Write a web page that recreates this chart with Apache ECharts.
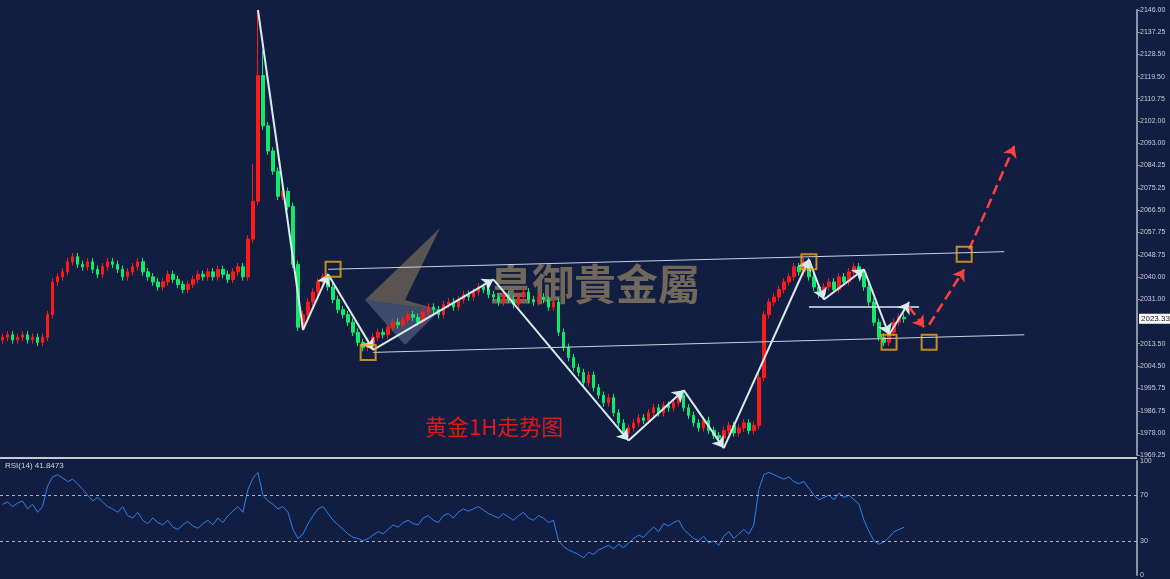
<!DOCTYPE html>
<html><head><meta charset="utf-8">
<script src="https://cdn.jsdelivr.net/npm/echarts@6/dist/echarts.min.js"></script>
<style>html,body{margin:0;padding:0;background:#111e41}#c{width:1170px;height:579px}</style>
</head><body><div id="c"></div>
<script>
// hourly closes (one candle per 5px)
var closes = [2016,2017,2015,2016,2017,2015,2016,2014,2016,
  2025,2038,
  2040,2042,2046,2048,2045,2044,2046,2043,2041,2044,2046,2045,2043,2040,2042,2044,2046,2042,2040,2038,2036,2038,2041,2039,2037,2035,2037,2039,2041,2040,2042,2040,2043,2041,2039,2042,2044,2040,
  2055,2070,2120,
  2100,2090,2082,2072,2074,2068,2045,2020,
  2025,2030,2034,2038,2040,
  2036,2031,2027,2025,2022,2018,2014,2012,2013,
  2016,2018,2017,2020,2022,2021,2023,2025,2024,2022,2026,2028,2027,2025,2029,2030,2028,2031,2033,2032,2034,2036,2035,2033,
  2032,2030,2033,2031,2029,2032,2034,2031,2030,2032,2031,2028,2030,
  2018,2012,2008,2004,2002,1998,2001,1996,1993,1990,1992,1986,1982,1978,
  1980,1982,1984,1983,1986,1988,1986,1989,1988,1990,1993,
  1988,1985,1982,1980,1983,1979,1977,1976,
  1979,1981,1978,1980,1982,1979,1981,
  2000,2025,2030,2032,2035,2038,2040,2044,2042,2046,
  2040,2036,2033,
  2036,2038,2035,2040,2038,2042,2044,2041,
  2036,2030,2022,2016,2014,
  2018,2022,2024,2023.33];
var highOverride = {51: 2146, 50: 2085, 52: 2130};
var rsi = [62,64,60,63,65,58,62,55,60,
  78,86,
  88,85,82,84,80,75,70,65,68,64,60,58,55,60,52,50,55,48,45,50,46,44,48,42,40,44,47,43,41,45,48,44,50,46,52,56,60,55,
  75,85,90,
  70,65,62,58,60,55,40,32,
  36,45,52,58,60,
  54,48,44,40,36,33,32,30,32,
  35,38,36,40,44,42,46,48,45,44,50,52,48,46,52,54,50,55,58,56,58,60,57,54,
  52,50,54,51,48,52,55,50,48,52,50,46,48,
  30,25,22,20,18,15,20,18,22,24,26,23,27,24,
  28,32,35,33,38,42,38,45,43,46,48,
  40,36,32,30,34,28,30,26,
  34,38,32,36,40,36,44,
  75,88,90,88,86,84,86,82,80,82,
  76,70,66,
  68,70,66,72,68,70,66,62,
  48,38,30,27,29,
  33,38,40,41.85];
var priceTicks = [1969.25,1978,1986.75,1995.75,2004.5,2013.5,2031,2040,2048.75,2057.75,2066.5,2075.25,2084.25,2093,2102,2110.75,2119.5,2128.5,2137.25,2146];
var totalSlots = 227;

var cats = [], ohlc = [];
for (var i = 0; i < totalSlots; i++) cats.push(i);
for (var i = 0; i < closes.length; i++) {
  var o = i ? closes[i-1] : closes[0] - 1, c = closes[i];
  var h = highOverride[i] || Math.max(o, c) + 1.5, l = Math.min(o, c) - 1.5;
  ohlc.push([o, c, l, h]);
}
function px(x) { return Math.round((x - 2.5) / 5); }
var white = '#d8ecf0';
var zigPts = [[258,2146],[300,2019],[325,2041],[370,2011],[490,2039],[625,1975],[680,1995],[722,1972],[805,2047],[820,2031],[862,2043],[885,2017],[905,2030]];
var squares = [[330,2043],[369,2010],[805,2046],[886,2014],[928,2014],[962,2049]].map(function(p){ return [px(p[0]), p[1]]; });

function seg(a, b, col, width, dash, arrow) {
  return [{coord:[px(a[0]), a[1]], symbol:'none',
           lineStyle:{color:col, width:width, type: dash ? 'dashed' : 'solid'}},
          {coord:[px(b[0]), b[1]], symbol: arrow ? 'arrow' : 'none', symbolSize: arrow ? 11 : 0}];
}
var lines = [];
for (var k = 0; k < zigPts.length - 1; k++) lines.push(seg(zigPts[k], zigPts[k+1], white, 2, false, k > 0));
lines.push(seg([325,2043],[1000,2050],'#c8d4e0',1,false,false));
lines.push(seg([370,2010],[1020,2017],'#c8d4e0',1,false,false));
lines.push(seg([805,2028],[915,2028],white,1.5,false,false));
lines.push(seg([905,2028],[920,2020],'#ff4040',2.5,true,true));
lines.push(seg([928,2021],[960,2043],'#ff4040',2.5,true,true));
lines.push(seg([968,2051],[1010,2092],'#ff4040',2.5,true,true));

var chart = echarts.init(document.getElementById('c'));
var series = [
  {type:'candlestick', data: ohlc, barWidth: 3,
   itemStyle:{color:'#ff1a1a', color0:'#12e86a', borderColor:'#ff1a1a', borderColor0:'#12e86a'},
   markLine:{symbol:'none', silent:true, data:[{yAxis:2023.33}], lineStyle:{color:'transparent'},
     label:{position:'end', formatter:'2023.33', color:'#111', backgroundColor:'#fff', fontSize:8, padding:[1,2], distance:2}}},
  {type:'scatter', data: [], markLine:{silent:true, animation:false, label:{show:false}, data: lines}, z:6},
  {type:'scatter', data: squares, symbol:'rect', symbolSize:15, silent:true,
   itemStyle:{color:'transparent', borderColor:'#f0a818', borderWidth:2}, z:7},
  {type:'line', xAxisIndex:1, yAxisIndex:1, data: rsi, symbol:'none', lineStyle:{color:'#2f7fe8', width:1},
   markLine:{symbol:'none', silent:true, label:{show:false}, lineStyle:{color:'#aab2c4', type:[3,3], width:1},
     data:[{yAxis:70},{yAxis:30}]}}
];
chart.setOption({
  backgroundColor:'#111e41',
  animation:false,
  grid:[{left:0, right:33, top:10, height:445}, {left:0, right:33, top:461, height:114}],
  xAxis:[
    {type:'category', data:cats, gridIndex:0, boundaryGap:true, axisLine:{show:false}, axisTick:{show:false}, axisLabel:{show:false}},
    {type:'category', data:cats, gridIndex:1, boundaryGap:true, axisLine:{show:false}, axisTick:{show:false}, axisLabel:{show:false}}
  ],
  yAxis:[
    {type:'value', gridIndex:0, position:'right', min:1969.25, max:2146, splitLine:{show:false},
     axisLine:{show:true, lineStyle:{color:'#8a93a8', width:2}}, axisTick:{show:true, customValues:priceTicks, length:3},
     axisLabel:{customValues:priceTicks, color:'#c8cdd8', fontSize:7, margin:3, formatter:function(v){return v.toFixed(2);}}},
    {type:'value', gridIndex:1, position:'right', min:0, max:100, splitLine:{show:false},
     axisLine:{show:true, lineStyle:{color:'#8a93a8', width:2}}, axisTick:{show:false},
     axisLabel:{customValues:[0,30,70,100], color:'#c8cdd8', fontSize:7, margin:3}}
  ],
  series: series,
  graphic:[
    {type:'line', shape:{x1:0, y1:458, x2:1137, y2:458}, style:{stroke:'#c8ccd6', lineWidth:2}},
    {type:'text', left:5, top:462, style:{text:'RSI(14) 41.8473', fill:'#d0d4de', font:'8px sans-serif'}},
    {type:'polygon', shape:{points:[[440,228],[365,300],[440,310],[405,300]]}, style:{fill:'rgba(150,130,95,0.55)'}},
    {type:'polygon', shape:{points:[[365,300],[405,345],[440,310]]}, style:{fill:'rgba(110,120,150,0.5)'}},
    {type:'text', left:490, top:263, style:{text:'皇御貴金屬', fill:'rgba(145,128,100,0.75)', font:'bold 42px "Noto Sans CJK TC"', letterSpacing:8}},
    {type:'text', left:425, top:416, style:{text:'黄金1H走势图', fill:'#e01818', font:'22px "Noto Sans CJK SC"'}}
  ]
});
</script></body></html>
